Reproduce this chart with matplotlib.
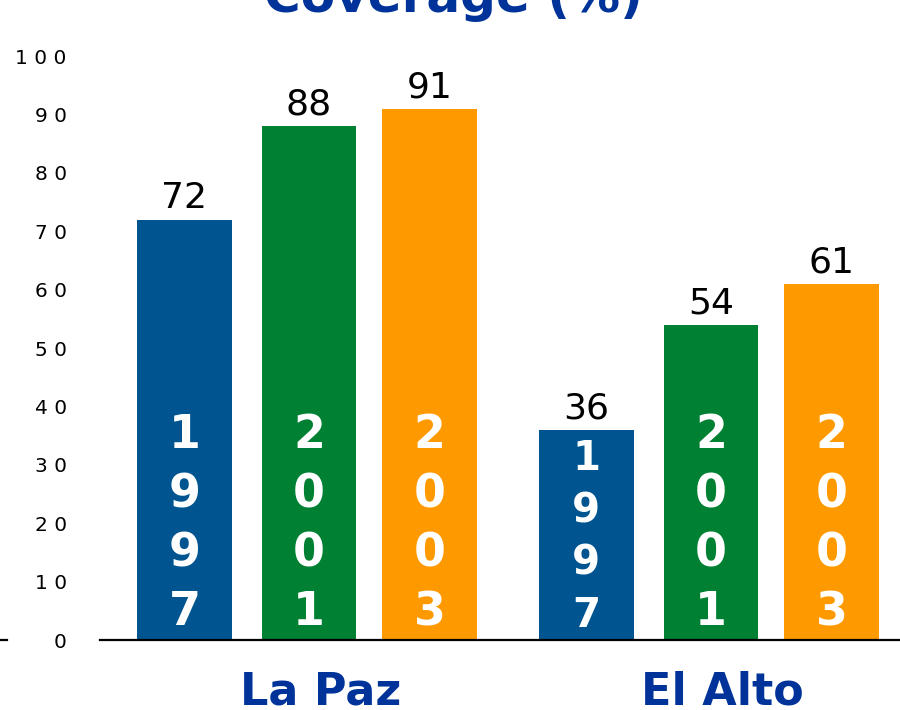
import numpy as np
import matplotlib
matplotlib.use("Agg")
import matplotlib.pyplot as plt
from matplotlib.lines import Line2D

# data
cities = ["La Paz", "El Alto"]
years = ["1997", "2001", "2003"]
coverage = {
    "1997": [72, 36],
    "2001": [88, 54],
    "2003": [91, 61],
}
yticks = [0, 10, 20, 30, 40, 50, 60, 70, 80, 90, 100]

bar_colors = ["#005590", "#008033", "#ff9900"]
title_blue = "#003399"

fig = plt.figure(figsize=(9, 7.1), dpi=100)
ax = fig.add_axes([100 / 900, 70 / 710, 800 / 900, 584 / 710])

x = np.arange(len(cities))
offsets = [-0.31, 0.0, 0.3]
width = 0.236

for i, yr in enumerate(years):
    vals = coverage[yr]
    bars = ax.bar(x + offsets[i], vals, width, color=bar_colors[i], zorder=2)
    for j, b in enumerate(bars):
        cx = b.get_x() + b.get_width() / 2
        ax.annotate(str(vals[j]), (cx, b.get_height()), xytext=(0, 3),
                    textcoords="offset points", ha="center", va="bottom",
                    fontsize=26, color="black", clip_on=False)
        # year written vertically inside the bar
        small = vals[j] < 45 and i == 0
        ax.text(cx, 17.6 if small else 19.8, "\n".join(yr), ha="center",
                va="center", color="white", fontweight="bold",
                fontsize=29 if small else 33, linespacing=1.40, zorder=3)

ax.set_xlim(-0.52, 1.47)
ax.set_ylim(0, 100)
ax.set_xticks([])
ax.set_yticks(yticks)
ax.set_yticklabels([" ".join(str(t)) for t in yticks], fontsize=14.5)
ax.tick_params(axis="y", length=0, pad=24)

for s in ["top", "right", "left"]:
    ax.spines[s].set_visible(False)
ax.spines["bottom"].set_linewidth(1.6)
ax.spines["bottom"].set_zorder(4)

# city names under each group
for k, c in enumerate(cities):
    ax.annotate(c, (x[k], 0), xytext=(8, -22), textcoords="offset points",
                ha="center", va="top", fontsize=32, fontweight="bold",
                color=title_blue, annotation_clip=False)

# small stub of the axis line at far left
fig.add_artist(Line2D([0, 7 / 900], [70 / 710, 70 / 710], color="black", lw=1.6))

fig.text(453 / 900, 1 - 12 / 710, "Coverage (%)", ha="center", va="baseline",
         fontsize=36, fontweight="bold", color=title_blue)

fig.savefig("out.png", dpi=100)
